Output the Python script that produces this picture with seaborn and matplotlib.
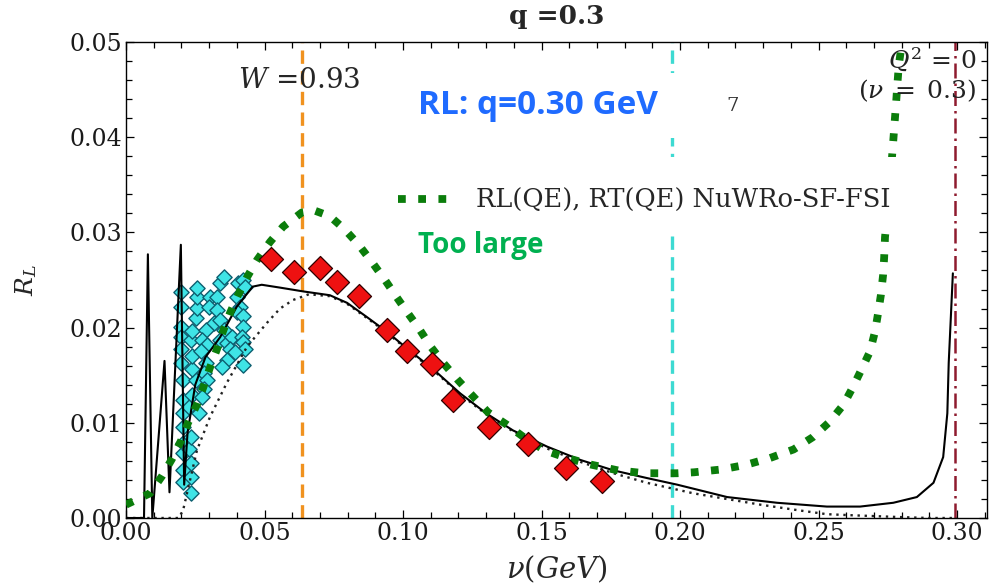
import numpy as np
import pandas as pd
import matplotlib
matplotlib.use("Agg")
import matplotlib.pyplot as plt
from matplotlib.lines import Line2D
from matplotlib.patches import Rectangle
from matplotlib.ticker import MultipleLocator, FuncFormatter
import seaborn as sns

# ---------------- data ----------------
# full theory curve (black solid)
full_x = [0.0, 0.0065, 0.0079, 0.0095, 0.0139, 0.0157, 0.0198, 0.0210, 0.0222,
          0.025, 0.0287, 0.034, 0.040, 0.0457, 0.049, 0.0556, 0.064, 0.0736,
          0.0798, 0.087, 0.094, 0.1036, 0.111, 0.1206, 0.130, 0.1397, 0.152,
          0.164, 0.176, 0.188, 0.199, 0.217, 0.235, 0.253, 0.265, 0.277,
          0.2855, 0.2915, 0.295, 0.2965, 0.297, 0.2985]
full_y = [0.0, 0.0, 0.0277, 0.0, 0.0165, 0.0027, 0.0287, 0.0035, 0.0089,
          0.0140, 0.0169, 0.0190, 0.0222, 0.0243, 0.0245, 0.0242, 0.0238, 0.0234,
          0.0226, 0.0211, 0.0196, 0.0173, 0.0156, 0.0131, 0.0110, 0.0092, 0.0075,
          0.0061, 0.0050, 0.0042, 0.0035, 0.0022, 0.0016, 0.0012, 0.0012, 0.0016,
          0.0022, 0.0037, 0.0064, 0.0110, 0.0163, 0.0257]

# second theory curve (black dotted)
dot_x = [0.0, 0.019, 0.0206, 0.0256, 0.0303, 0.0364, 0.0437, 0.0509, 0.0556,
         0.0603, 0.066, 0.0736, 0.0798, 0.087, 0.094, 0.1036, 0.111, 0.1206,
         0.130, 0.1397, 0.152, 0.164, 0.176, 0.188, 0.2047, 0.229, 0.243,
         0.253, 0.261, 0.279, 0.290, 0.300]
dot_y = [0.0, 0.0, 0.0008, 0.0071, 0.0106, 0.0142, 0.0180, 0.0205, 0.0220,
         0.0229, 0.0235, 0.0233, 0.0225, 0.0210, 0.0195, 0.0172, 0.0155, 0.0130,
         0.0109, 0.0091, 0.0073, 0.0059, 0.0047, 0.0037, 0.0026, 0.0014, 0.0008,
         0.0004, 0.0003, 0.0001, 0.0, 0.0]

# NuWRo-SF-FSI QE (green thick dotted)
qe_x = [0.0, 0.0087, 0.013, 0.0166, 0.020, 0.0224, 0.0256, 0.028, 0.0303, 0.0328,
        0.035, 0.0375, 0.0404, 0.0437, 0.0473, 0.052, 0.0567, 0.0635, 0.068,
        0.0736, 0.079, 0.084, 0.089, 0.0935, 0.0977, 0.1018, 0.106, 0.110,
        0.1145, 0.1198, 0.1249, 0.1307, 0.1375, 0.144, 0.1512, 0.1592, 0.168,
        0.1776, 0.1873, 0.1989, 0.205, 0.215, 0.224, 0.2325, 0.241, 0.248,
        0.254, 0.259, 0.2625, 0.266, 0.2686, 0.2704, 0.2715, 0.2725, 0.2733,
        0.2737, 0.274, 0.2755, 0.277, 0.278, 0.2785, 0.279, 0.280, 0.281]
qe_y = [0.0014, 0.0026, 0.0044, 0.0062, 0.0082, 0.0100, 0.0119, 0.0138, 0.0158, 0.0177,
        0.0196, 0.0215, 0.0234, 0.0253, 0.0271, 0.0290, 0.0306, 0.0321, 0.0323,
        0.0317, 0.0303, 0.0287, 0.0268, 0.0250, 0.0232, 0.0215, 0.0198, 0.0180,
        0.0163, 0.0145, 0.0129, 0.0111, 0.0098, 0.0084, 0.0071, 0.0063, 0.0056,
        0.0050, 0.0047, 0.0047, 0.0048, 0.0051, 0.0056, 0.0063, 0.0072, 0.0085,
        0.0101, 0.0119, 0.0138, 0.0159, 0.0175, 0.0196, 0.0215, 0.0234, 0.0255,
        0.0274, 0.0295, 0.0340, 0.0397, 0.0436, 0.0457, 0.0476, 0.0497, 0.0520]

# red diamonds (data)
red_x = [0.0522, 0.0608, 0.0700, 0.0760, 0.0841, 0.0944, 0.1016, 0.1103,
         0.1180, 0.1312, 0.1453, 0.1587, 0.1720]
red_y = [0.0272, 0.0258, 0.0263, 0.0248, 0.0233, 0.0197, 0.0175, 0.0162,
         0.0124, 0.0096, 0.0078, 0.0052, 0.0039]

# cyan diamonds (data)
cyan_x = [0.0197, 0.0197, 0.0197, 0.0197, 0.0200, 0.0200, 0.0204, 0.0204, 0.0204,
          0.0204, 0.0207, 0.0204, 0.0207, 0.0207, 0.0233, 0.0233, 0.0233, 0.0226,
          0.0233, 0.0226, 0.0240, 0.0251, 0.0240, 0.0240, 0.0233, 0.0240, 0.0251,
          0.0258, 0.0258, 0.0258, 0.0305, 0.0298, 0.0330, 0.0341, 0.0352, 0.0330,
          0.0316, 0.0287, 0.0276, 0.0294, 0.0269, 0.0287, 0.0280, 0.0294, 0.0280,
          0.0276, 0.0262, 0.0341, 0.0352, 0.0341, 0.0366, 0.0384, 0.0377, 0.0366,
          0.0348, 0.0402, 0.0406, 0.0424, 0.0431, 0.0413, 0.0402, 0.0424, 0.0424,
          0.0420, 0.0424, 0.0431, 0.0424, 0.0395]
cyan_y = [0.0237, 0.0222, 0.0201, 0.0190, 0.0177, 0.0163, 0.0145, 0.0124, 0.0110,
          0.0096, 0.0079, 0.0068, 0.0050, 0.0038, 0.0026, 0.0043, 0.0058, 0.0072,
          0.0085, 0.0117, 0.0129, 0.0145, 0.0156, 0.0170, 0.0187, 0.0196, 0.0210,
          0.0221, 0.0232, 0.0242, 0.0232, 0.0222, 0.0232, 0.0247, 0.0253, 0.0219,
          0.0205, 0.0198, 0.0187, 0.0182, 0.0175, 0.0163, 0.0152, 0.0145, 0.0135,
          0.0127, 0.0110, 0.0208, 0.0198, 0.0187, 0.0184, 0.0190, 0.0177, 0.0166,
          0.0159, 0.0232, 0.0247, 0.0250, 0.0243, 0.0222, 0.0216, 0.0212, 0.0201,
          0.0190, 0.0185, 0.0177, 0.0161, 0.0174]

vlines = {"W": 0.0635, "qe": 0.197, "q2": 0.2993}

x_ticks = [0.00, 0.05, 0.10, 0.15, 0.20, 0.25, 0.30]
y_ticks = [0.00, 0.01, 0.02, 0.03, 0.04, 0.05]

legend_label = "RL(QE), RT(QE) NuWRo-SF-FSI"

# ---------------- style ----------------
sns.set_style("white")
plt.rcParams["font.family"] = ["DejaVu Serif"]
plt.rcParams["mathtext.fontset"] = "dejavuserif"

GREEN = "#0b7d0b"
green_ls = (0, (1, 1.6))

fig = plt.figure(figsize=(10.03, 5.88), dpi=100)
ax = fig.add_axes([126 / 1003, 70 / 588, 861.5 / 1003, 476 / 588])

# vertical reference lines
ax.axvline(vlines["W"], color="#f0921f", lw=2.4, ls=(0, (4, 2.2)), zorder=1)
ax.axvline(vlines["qe"], color="#3ddad2", lw=2.4, ls=(0, (4, 2.2)), zorder=1)
ax.axvline(vlines["q2"], color="#8e1b2e", lw=1.8, ls=(0, (6, 2, 1, 2)), zorder=1)

# cyan data
sns.scatterplot(x=cyan_x, y=cyan_y, marker="D", s=60, color="#3fe4e6",
                edgecolor="#0d5f70", linewidth=1.0, ax=ax, zorder=2, legend=False)

# theory curves
sns.lineplot(x=dot_x, y=dot_y, sort=False, color="#222222", lw=1.7,
             linestyle=(0, (1, 2.0)), ax=ax, zorder=3, legend=False)
sns.lineplot(x=full_x, y=full_y, sort=False, color="black", lw=1.5,
             ax=ax, zorder=3, legend=False)
sns.lineplot(x=qe_x, y=qe_y, sort=False, color=GREEN, lw=5.6,
             linestyle=green_ls, ax=ax, zorder=4, legend=False)

# red data
sns.scatterplot(x=red_x, y=red_y, marker="D", s=150, color="#ee1111",
                edgecolor="#300000", linewidth=0.9, ax=ax, zorder=5, legend=False)

ax.set_xlim(0, 0.311)
ax.set_ylim(0, 0.05)
ax.set_xticks(x_ticks)
ax.set_yticks(y_ticks)
ax.xaxis.set_minor_locator(MultipleLocator(0.01))
ax.yaxis.set_minor_locator(MultipleLocator(0.002))
ax.xaxis.set_major_formatter(FuncFormatter(lambda v, p: f"{v:.2f}"))
ax.yaxis.set_major_formatter(FuncFormatter(lambda v, p: f"{v:.2f}"))
ax.tick_params(which="both", direction="in", top=True, right=True,
               bottom=True, left=True, color="black", width=0.9)
ax.tick_params(which="major", length=6, labelsize=17, pad=3, labelcolor="#1a1a1a")
ax.tick_params(which="minor", length=4)
for s in ax.spines.values():
    s.set_color("black")
    s.set_linewidth(1.0)

ax.set_xlabel(r"$\nu(GeV)$", fontsize=21, labelpad=6)
ax.set_ylabel(r"$R_L$", fontsize=18, labelpad=22)
ax.set_title("q =0.3", fontsize=19, fontweight="bold", pad=13)

def px(xp):
    return (xp - 125.5) / 861.5

def py(yp):
    return (518 - yp) / 476

# white boxes (cover, as in the reference)
ax.add_patch(Rectangle((px(400), py(138)), px(722) - px(400), py(73) - py(138),
                       transform=ax.transAxes, facecolor="white", edgecolor="none",
                       zorder=6))
ax.add_patch(Rectangle((px(385), py(232)), px(905) - px(385), py(157) - py(232),
                       transform=ax.transAxes, facecolor="white", edgecolor="none",
                       zorder=6))

# annotations
ax.text(px(237), py(80), r"$W$ =0.93", fontsize=20, ha="left", va="center",
        transform=ax.transAxes, zorder=7)
ax.text(px(976), py(60), r"$Q^2\,=\,0$", fontsize=18, ha="right", va="center",
        transform=ax.transAxes, zorder=7, color="#222222")
ax.text(px(976), py(91), r"$(\nu\;=\;0.3)$", fontsize=18, ha="right", va="center",
        transform=ax.transAxes, zorder=7, color="#222222")
ax.text(px(418), py(105), "RL: q=0.30 GeV", fontsize=24, fontweight="bold",
        family=["Open Sans", "DejaVu Sans"], color="#1f6bff", ha="left",
        va="center", transform=ax.transAxes, zorder=7)
ax.text(px(726), py(106), "7", fontsize=14, ha="left", va="center",
        transform=ax.transAxes, zorder=7, color="#333333")
ax.text(px(418), py(245), "Too large", fontsize=20, fontweight="bold",
        family=["Open Sans", "DejaVu Sans"], color="#00b050", ha="left",
        va="center", transform=ax.transAxes, zorder=7)

handle = Line2D([], [], color=GREEN, lw=5.6, linestyle=green_ls)
leg = ax.legend([handle], [legend_label], loc="center left",
                bbox_to_anchor=(px(398), py(200)), frameon=False,
                fontsize=18.5, handlelength=1.9, handletextpad=1.1,
                borderpad=0, borderaxespad=0)
leg.set_zorder(8)

fig.savefig("out.png", dpi=100)
